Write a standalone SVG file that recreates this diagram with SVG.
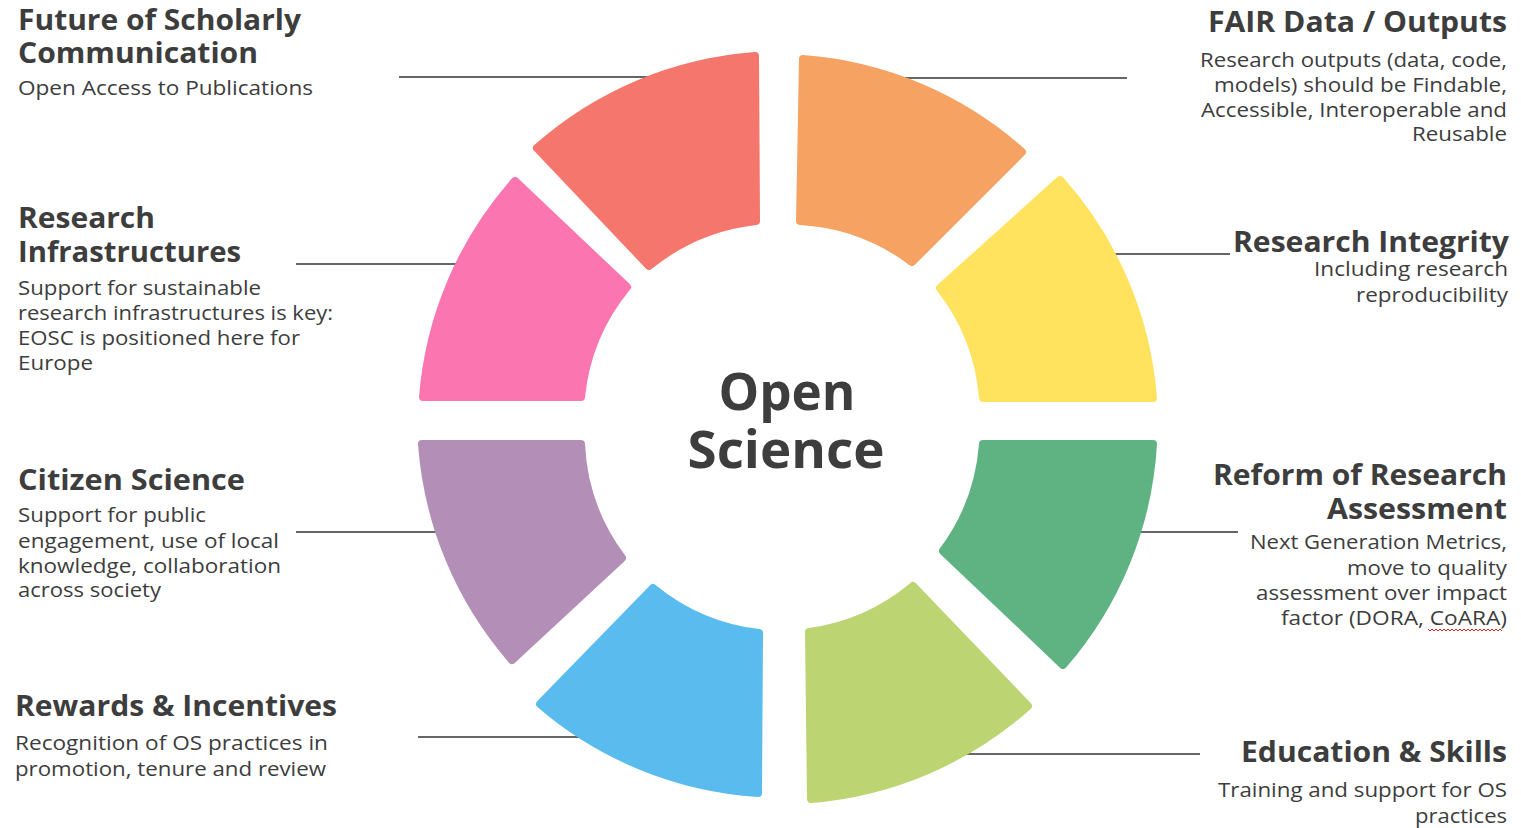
<svg xmlns="http://www.w3.org/2000/svg" width="1521" height="828" viewBox="0 0 1521 828">
<style>
.seg{stroke-width:8;stroke-linejoin:round}
.ln{stroke:#333;stroke-width:1.6;fill:none}
.t{font-family:"Open Sans","Liberation Sans",sans-serif;fill:#3d3d3d}
.b{font-weight:700;font-size:28px}
.r{font-weight:400;font-size:20px}
.e{text-anchor:end}
.c{font-weight:700;font-size:52px;text-anchor:middle}
</style>
<rect width="1521" height="828" fill="#fff"/>
<g id="connectors">
<line class="ln" x1="399" y1="77" x2="650" y2="77"/>
<line class="ln" x1="900" y1="78" x2="1127" y2="78"/>
<line class="ln" x1="1100" y1="254" x2="1230" y2="254"/>
<line class="ln" x1="296" y1="264" x2="470" y2="264"/>
<line class="ln" x1="296" y1="532" x2="450" y2="532"/>
<line class="ln" x1="1120" y1="532" x2="1238" y2="532"/>
<line class="ln" x1="418" y1="737" x2="590" y2="737"/>
<line class="ln" x1="950" y1="754" x2="1200" y2="754"/>
</g>
<g id="seg-scholarly"><path class="seg" fill="#F4766C" stroke="#F4766C" d="M649,266 L537,148 A370 370 0 0 1 755,56 L756,221 A205 205 0 0 0 649,266 Z"/></g>
<g id="seg-fair"><path class="seg" fill="#F6A262" stroke="#F6A262" d="M800,221 L803,59 A370 370 0 0 1 1022,152 L912,262 A205 205 0 0 0 800,221 Z"/></g>
<g id="seg-integrity"><path class="seg" fill="#FFE35F" stroke="#FFE35F" d="M940,288 L1060,180 A370 370 0 0 1 1153,398 L983,398 A205 205 0 0 0 940,288 Z"/></g>
<g id="seg-assessment"><path class="seg" fill="#5FB383" stroke="#5FB383" d="M983,444 L1153,444 A370 370 0 0 1 1063,665 L943,551 A205 205 0 0 0 983,444 Z"/></g>
<g id="seg-education"><path class="seg" fill="#BCD472" stroke="#BCD472" d="M913,586 L1028,706 A370 370 0 0 1 811,799 L809,632 A205 205 0 0 0 913,586 Z"/></g>
<g id="seg-rewards"><path class="seg" fill="#5ABBEF" stroke="#5ABBEF" d="M759,633 L758,793 A370 370 0 0 1 540,704 L653,588 A205 205 0 0 0 759,633 Z"/></g>
<g id="seg-citizen"><path class="seg" fill="#B38FB8" stroke="#B38FB8" d="M622,558 L512,660 A370 370 0 0 1 422,444 L581,444 A205 205 0 0 0 622,558 Z"/></g>
<g id="seg-infra"><path class="seg" fill="#FB76B1" stroke="#FB76B1" d="M581,397 L423,397 A370 370 0 0 1 515,181 L627,287 A205 205 0 0 0 581,397 Z"/></g>
<g id="center">
<text class="t c" x="787" y="410" textLength="137" lengthAdjust="spacingAndGlyphs">Open</text>
<text class="t c" x="786" y="468" textLength="197" lengthAdjust="spacingAndGlyphs">Science</text>
</g>
<g id="label-scholarly">
<text class="t b" x="18" y="30" textLength="283" lengthAdjust="spacingAndGlyphs">Future of Scholarly</text>
<text class="t b" x="18" y="63" textLength="240" lengthAdjust="spacingAndGlyphs">Communication</text>
<text class="t r" x="18" y="95" textLength="295" lengthAdjust="spacingAndGlyphs">Open Access to Publications</text>
</g>
<g id="label-infra">
<text class="t b" x="18" y="228" textLength="137" lengthAdjust="spacingAndGlyphs">Research</text>
<text class="t b" x="18" y="262" textLength="223" lengthAdjust="spacingAndGlyphs">Infrastructures</text>
<text class="t r" x="18" y="295" textLength="243" lengthAdjust="spacingAndGlyphs">Support for sustainable</text>
<text class="t r" x="18" y="320" textLength="315" lengthAdjust="spacingAndGlyphs">research infrastructures is key:</text>
<text class="t r" x="18" y="345" textLength="282" lengthAdjust="spacingAndGlyphs">EOSC is positioned here for</text>
<text class="t r" x="18" y="370" textLength="75" lengthAdjust="spacingAndGlyphs">Europe</text>
</g>
<g id="label-citizen">
<text class="t b" x="18" y="490" textLength="227" lengthAdjust="spacingAndGlyphs">Citizen Science</text>
<text class="t r" x="18" y="522" textLength="188" lengthAdjust="spacingAndGlyphs">Support for public</text>
<text class="t r" x="18" y="548" textLength="261" lengthAdjust="spacingAndGlyphs">engagement, use of local</text>
<text class="t r" x="18" y="573" textLength="263" lengthAdjust="spacingAndGlyphs">knowledge, collaboration</text>
<text class="t r" x="18" y="597" textLength="143" lengthAdjust="spacingAndGlyphs">across society</text>
</g>
<g id="label-rewards">
<text class="t b" x="15" y="716" textLength="322" lengthAdjust="spacingAndGlyphs">Rewards &amp; Incentives</text>
<text class="t r" x="15" y="750" textLength="313" lengthAdjust="spacingAndGlyphs">Recognition of OS practices in</text>
<text class="t r" x="15" y="776" textLength="311" lengthAdjust="spacingAndGlyphs">promotion, tenure and review</text>
</g>
<g id="label-fair">
<text class="t b e" x="1507" y="32" textLength="299" lengthAdjust="spacingAndGlyphs">FAIR Data / Outputs</text>
<text class="t r e" x="1507" y="67" textLength="307" lengthAdjust="spacingAndGlyphs">Research outputs (data, code,</text>
<text class="t r e" x="1507" y="92" textLength="293" lengthAdjust="spacingAndGlyphs">models) should be Findable,</text>
<text class="t r e" x="1507" y="117" textLength="306" lengthAdjust="spacingAndGlyphs">Accessible, Interoperable and</text>
<text class="t r e" x="1507" y="141" textLength="95" lengthAdjust="spacingAndGlyphs">Reusable</text>
</g>
<g id="label-integrity">
<text class="t b e" x="1509" y="252" textLength="276" lengthAdjust="spacingAndGlyphs">Research Integrity</text>
<text class="t r e" x="1508" y="276" textLength="194" lengthAdjust="spacingAndGlyphs">Including research</text>
<text class="t r e" x="1508" y="302" textLength="152" lengthAdjust="spacingAndGlyphs">reproducibility</text>
</g>
<g id="label-assessment">
<text class="t b e" x="1507" y="485" textLength="294" lengthAdjust="spacingAndGlyphs">Reform of Research</text>
<text class="t b e" x="1507" y="519" textLength="180" lengthAdjust="spacingAndGlyphs">Assessment</text>
<text class="t r e" x="1507" y="549" textLength="257" lengthAdjust="spacingAndGlyphs">Next Generation Metrics,</text>
<text class="t r e" x="1507" y="575" textLength="160" lengthAdjust="spacingAndGlyphs">move to quality</text>
<text class="t r e" x="1507" y="600" textLength="251" lengthAdjust="spacingAndGlyphs">assessment over impact</text>
<text class="t r e" x="1507" y="625" textLength="226" lengthAdjust="spacingAndGlyphs">factor (DORA, CoARA)</text>
<polyline fill="none" stroke="#e02020" stroke-width="1" points="1428,629 1430,631 1432,629 1434,631 1436,629 1438,631 1440,629 1442,631 1444,629 1446,631 1448,629 1450,631 1452,629 1454,631 1456,629 1458,631 1460,629 1462,631 1464,629 1466,631 1468,629 1470,631 1472,629 1474,631 1476,629 1478,631 1480,629 1482,631 1484,629 1486,631 1488,629 1490,631 1492,629 1494,631 1496,629 1498,631 1500,629 1502,631"/>
</g>
<g id="label-education">
<text class="t b e" x="1507" y="762" textLength="266" lengthAdjust="spacingAndGlyphs">Education &amp; Skills</text>
<text class="t r e" x="1507" y="797" textLength="289" lengthAdjust="spacingAndGlyphs">Training and support for OS</text>
<text class="t r e" x="1507" y="823" textLength="92" lengthAdjust="spacingAndGlyphs">practices</text>
</g>
</svg>
